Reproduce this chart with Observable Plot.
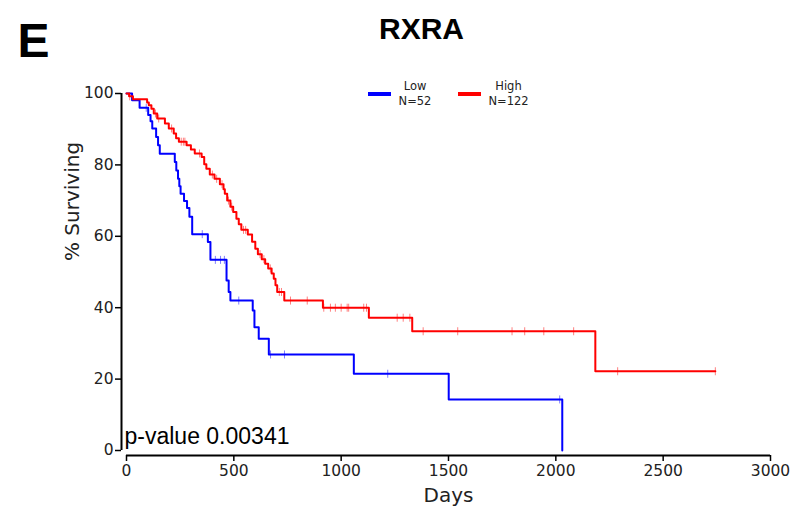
<!DOCTYPE html>
<html>
<head>
<meta charset="utf-8">
<script src="https://cdn.jsdelivr.net/npm/d3@7"></script>
<script src="https://cdn.jsdelivr.net/npm/@observablehq/plot@0.6"></script>
<style>
  body { margin: 0; background: white; }
  #wrap { position: relative; width: 796px; height: 509px; }
  .leg { position: absolute; font-family: "DejaVu Sans", sans-serif; font-size: 11.5px; color: #222; text-align: center; line-height: 15px; }
  .sw { position: absolute; height: 4px; width: 23px; }
</style>
</head>
<body>
<div id="wrap"></div>
<script>
const title = "RXRA";
const panel = "E";
const pLabel = "p-value 0.00341";
const xTicks = [0, 500, 1000, 1500, 2000, 2500, 3000];
const yTicks = [0, 20, 40, 60, 80, 100];
const groups = ["Low", "High"];
const groupN = [52, 122];
const groupColors = ["#0000ff", "#ff0000"];

// [day, % surviving after the event]
const lowSteps = [[0,100],[26,98.1],[61,96.0],[101,94.0],[112,92.2],[120,90.2],[138,87.8],[147,85.5],[155,83.1],[225,80.8],[232,78.4],[240,76.1],[246,74.0],[252,71.9],[268,69.9],[282,67.9],[293,65.5],[306,60.6],[379,58.4],[391,53.4],[466,47.6],[476,44.4],[484,42.0],[588,39.2],[596,34.5],[616,31.3],[663,26.9],[1059,21.5],[1501,14.3],[2030,0]];
const lowCensor = [92, 353, 414, 438, 456, 523, 671, 736, 1217, 2018];

const highSteps = [[0,100],[12,99.2],[30,98.4],[96,97.5],[104,96.7],[116,95.7],[127,94.4],[143,93.0],[179,91.6],[197,90.2],[220,88.8],[231,87.5],[244,86.5],[280,85.5],[300,84.3],[318,83.2],[350,82.2],[362,80.2],[372,78.9],[388,77.3],[410,76.1],[435,74.6],[452,73.2],[458,71.9],[469,70.0],[484,68.3],[497,66.8],[512,64.9],[523,63.4],[535,61.8],[565,60.5],[585,58.5],[600,56.5],[612,55.0],[630,53.6],[646,52.3],[660,51.0],[676,49.6],[686,48.1],[694,46.3],[702,44.4],[735,42.0],[915,40.0],[1129,37.2],[1331,33.4],[2184,22.2],[2743,22.2]];
const highCensor = [15, 135, 150, 210, 255, 265, 272, 340, 400, 420, 445, 475, 490, 545, 555, 622, 640, 670, 712, 722, 764, 842, 919, 950, 973, 1000, 1028, 1035, 1105, 1118, 1261, 1289, 1320, 1382, 1543, 1796, 1855, 1944, 2083, 2288, 2743];

function survAt(steps, t) {
  let s = 100;
  for (const [d, v] of steps) { if (d <= t) s = v; else break; }
  return s;
}
const lowCens = lowCensor.map(t => ({t, s: survAt(lowSteps, t)}));
const highCens = highCensor.map(t => ({t, s: survAt(highSteps, t)}));

const tickSym = { draw(ctx, size) { const r = Math.sqrt(size / Math.PI); ctx.moveTo(0, -r); ctx.lineTo(0, r); } };

const plot = Plot.plot({
  width: 796, height: 509,
  marginLeft: 126, marginRight: 26, marginTop: 93, marginBottom: 59,
  x: {domain: [0, 3000]},
  y: {domain: [0, 100]},
  style: {fontFamily: "DejaVu Sans", fontSize: "15.5px", color: "#222", background: "white"},
  marks: [
    Plot.ruleX([0], {y1: 0, y2: 100, dx: -5, stroke: "black", strokeWidth: 2}),
    Plot.ruleY([0], {dy: 5, stroke: "black", strokeWidth: 2}),
    Plot.axisX({ticks: xTicks, tickFormat: d => String(d), tickSize: 6, dy: 5, tickPadding: 3, label: null, strokeWidth: 1.5, stroke: "black"}),
    Plot.axisY({ticks: yTicks, tickFormat: d => String(d), tickSize: 6, dx: -5, tickPadding: 2, label: null, strokeWidth: 1.5, stroke: "black"}),
    Plot.line(lowSteps, {x: d => d[0], y: d => d[1], curve: "step-after", stroke: groupColors[0], strokeWidth: 2}),
    Plot.line(highSteps, {x: d => d[0], y: d => d[1], curve: "step-after", stroke: groupColors[1], strokeWidth: 2}),
    Plot.dot(lowCens, {x: "t", y: "s", symbol: tickSym, r: 4, stroke: groupColors[0], strokeOpacity: 0.5, strokeWidth: 1}),
    Plot.dot(highCens, {x: "t", y: "s", symbol: tickSym, r: 4, stroke: groupColors[1], strokeOpacity: 0.5, strokeWidth: 1}),
    Plot.text([pLabel], {frameAnchor: "bottom-left", textAnchor: "start", lineAnchor: "bottom", dx: -2, dy: -7, fontFamily: "Liberation Sans", fontSize: 23, fill: "black"}),
    Plot.text(["Days"], {frameAnchor: "bottom", lineAnchor: "bottom", dy: 51, fontSize: 20, fill: "#222"}),
    Plot.text(["% Surviving"], {frameAnchor: "left", rotate: -90, dx: -54, dy: -11, fontSize: 20, fill: "#222"}),
    Plot.text([title], {frameAnchor: "top", lineAnchor: "bottom", dx: -27, dy: -55, fontFamily: "Liberation Sans", fontWeight: "bold", fontSize: 30, fill: "black"}),
    Plot.text([panel], {frameAnchor: "top-left", textAnchor: "start", lineAnchor: "bottom", dx: -109, dy: -37, fontFamily: "Liberation Sans", fontWeight: "bold", fontSize: 48, fill: "black"})
  ]
});
const wrap = document.getElementById("wrap");
wrap.appendChild(plot);

// legend
const legPos = [{sw: 368, cx: 415}, {sw: 458, cx: 508.5}];
groups.forEach((g, i) => {
  const sw = document.createElement("div");
  sw.className = "sw";
  sw.style.left = legPos[i].sw + "px";
  sw.style.top = "92px";
  sw.style.background = groupColors[i];
  wrap.appendChild(sw);
  const t = document.createElement("div");
  t.className = "leg";
  t.style.left = (legPos[i].cx - 40) + "px";
  t.style.width = "80px";
  t.style.top = "79px";
  t.innerHTML = g + "<br>N=" + groupN[i];
  wrap.appendChild(t);
});
</script>
</body>
</html>
